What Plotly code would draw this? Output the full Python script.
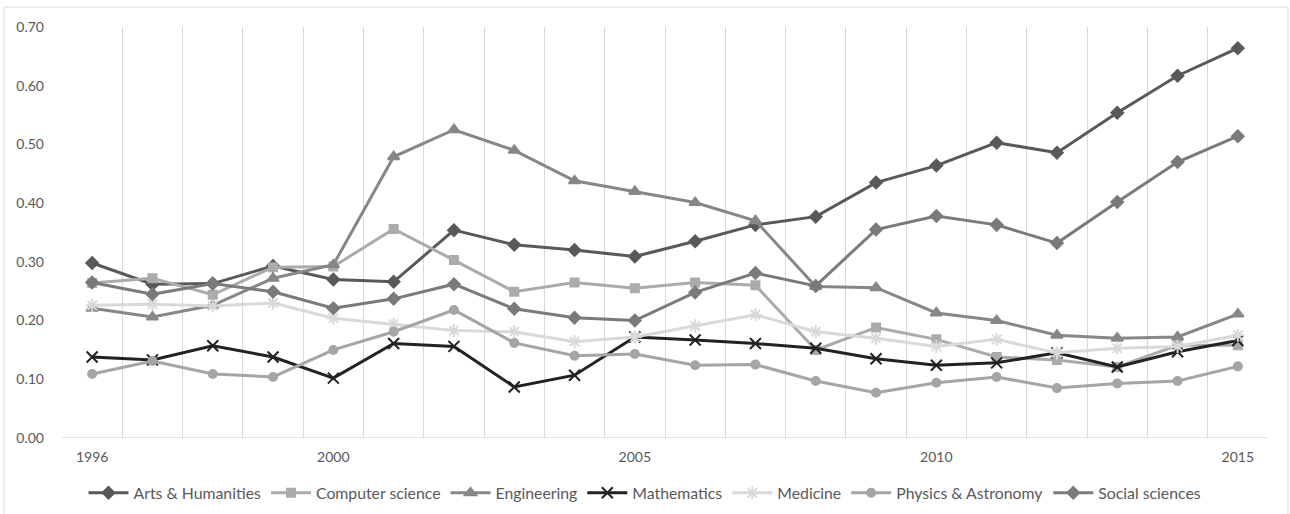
import plotly.graph_objects as go

years = list(range(1996, 2016))

arts = [0.298, 0.262, 0.263, 0.293, 0.270, 0.266, 0.354, 0.329, 0.320, 0.309, 0.335, 0.363, 0.377, 0.435, 0.464, 0.503, 0.486, 0.554, 0.617, 0.664]
cs = [0.264, 0.272, 0.244, 0.291, 0.292, 0.356, 0.303, 0.249, 0.265, 0.255, 0.265, 0.260, 0.150, 0.188, 0.168, 0.138, 0.133, 0.121, 0.158, 0.158]
eng = [0.221, 0.206, 0.226, 0.272, 0.295, 0.479, 0.525, 0.490, 0.438, 0.420, 0.401, 0.370, 0.258, 0.256, 0.213, 0.200, 0.175, 0.170, 0.172, 0.211]
math_ = [0.138, 0.133, 0.157, 0.138, 0.102, 0.161, 0.156, 0.087, 0.107, 0.172, 0.167, 0.161, 0.153, 0.135, 0.124, 0.128, 0.145, 0.121, 0.147, 0.166]
med = [0.226, 0.228, 0.225, 0.230, 0.204, 0.194, 0.183, 0.181, 0.164, 0.172, 0.191, 0.210, 0.181, 0.170, 0.156, 0.168, 0.145, 0.153, 0.156, 0.175]
phys = [0.109, 0.131, 0.109, 0.104, 0.150, 0.181, 0.218, 0.162, 0.140, 0.143, 0.124, 0.125, 0.097, 0.077, 0.094, 0.104, 0.085, 0.093, 0.097, 0.122]
soc = [0.265, 0.245, 0.263, 0.249, 0.221, 0.237, 0.262, 0.220, 0.205, 0.200, 0.248, 0.281, 0.259, 0.355, 0.378, 0.363, 0.332, 0.402, 0.470, 0.514]

label_years = [1996, 2000, 2005, 2010, 2015]
y_ticks = [0.0, 0.1, 0.2, 0.3, 0.4, 0.5, 0.6, 0.7]

series = [
    ("Arts & Humanities", arts, "#595959", "diamond", 9),
    ("Computer science", cs, "#ababab", "square", 8),
    ("Engineering", eng, "#878787", "triangle-up", 10),
    ("Mathematics", math_, "#222222", "x-thin-open", 11),
    ("Medicine", med, "#d9d9d9", "asterisk-open", 11),
    ("Physics & Astronomy", phys, "#a5a5a5", "circle", 8),
    ("Social sciences", soc, "#7a7a7a", "diamond", 9),
]

fig = go.Figure()
for name, vals, col, sym, sz in series:
    fig.add_trace(go.Scatter(
        x=years, y=vals, name=name, mode="lines+markers",
        line=dict(color=col, width=3),
        marker=dict(symbol=sym, size=sz, color=col, line=dict(color=col, width=2)),
    ))

grid_vals = [y - 0.5 for y in years] + [years[-1] + 0.5]

fig.update_layout(
    width=1290, height=514,
    margin=dict(l=62, r=22, t=27, b=76, autoexpand=False),
    paper_bgcolor="white", plot_bgcolor="white",
    font=dict(family="Lato, 'Open Sans', sans-serif", size=13, color="#595959"),
    showlegend=True,
    legend=dict(orientation="h", x=0.5, xanchor="center", xref="container",
                y=21 / 514, yanchor="middle", yref="container",
                font=dict(size=15.8, color="#595959"), itemwidth=40, tracegroupgap=0),
    xaxis=dict(
        range=[1995.5, 2015.5], tickmode="array", tickvals=grid_vals,
        ticktext=["" for _ in grid_vals], showgrid=True, gridcolor="#d9d9d9", gridwidth=1,
        showline=False, zeroline=False, ticks="", fixedrange=True, automargin=False,
    ),
    xaxis2=dict(
        range=[1995.5, 2015.5], overlaying="x", side="bottom", tickmode="array",
        tickvals=label_years, ticktext=[str(v) for v in label_years],
        showgrid=False, showline=False, zeroline=False, ticks="", automargin=False,
        tickfont=dict(size=14, color="#595959"), ticklabelstandoff=9,
    ),
    yaxis=dict(
        range=[0, 0.7], tickmode="array", tickvals=y_ticks, tickformat=".2f",
        showgrid=False, zeroline=False, showline=False, ticks="", automargin=False,
        tickfont=dict(size=14, color="#595959"), ticklabelstandoff=17,
    ),
)

# dummy trace to activate xaxis2
fig.add_trace(go.Scatter(x=[years[0]], y=[None], xaxis="x2", showlegend=False, hoverinfo="skip"))

# bottom axis line and chart border
fig.add_shape(type="line", xref="paper", yref="y", x0=0, x1=1, y0=0, y1=0,
              line=dict(color="#d9d9d9", width=1.5))
fig.add_shape(type="rect", xref="paper", yref="paper",
              x0=(4 - 62) / 1206, x1=(1288 - 62) / 1206,
              y0=-(514 - 438 + 5) / 411, y1=1 + (27 - 7) / 411,
              line=dict(color="#d9d9d9", width=1), fillcolor="rgba(0,0,0,0)", layer="below")

fig.write_html("out.html")
